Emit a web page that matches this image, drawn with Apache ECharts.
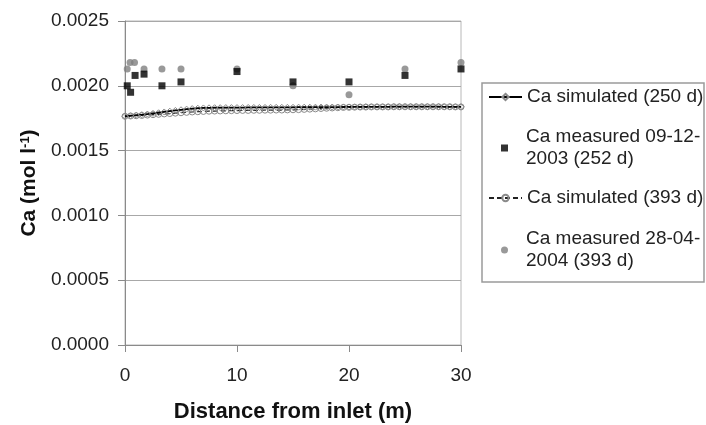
<!DOCTYPE html>
<html>
<head>
<meta charset="utf-8">
<script src="https://cdn.jsdelivr.net/npm/echarts@6/dist/echarts.min.js"></script>
<style>
  html, body { margin: 0; padding: 0; background: #fff; }
  #chart { width: 706px; height: 425px; }
</style>
</head>
<body>
<div id="chart"></div>
<script>
// Distance grid of the simulation (m)
const simDistance = [
  0, 0.5, 1, 1.5, 2, 2.5, 3, 3.5, 4, 4.5, 5, 5.5, 6, 6.5, 7, 7.5, 8, 8.5, 9, 9.5,
  10, 10.5, 11, 11.5, 12, 12.5, 13, 13.5, 14, 14.5, 15, 15.5, 16, 16.5, 17, 17.5,
  18, 18.5, 19, 19.5, 20, 20.5, 21, 21.5, 22, 22.5, 23, 23.5, 24, 24.5, 25, 25.5,
  26, 26.5, 27, 27.5, 28, 28.5, 29, 29.5, 30
];

// Simulated Ca after 250 days (mol/l)
const caSim250 = [
  0.001765, 0.001769, 0.001773, 0.001777, 0.001782, 0.001787, 0.001792, 0.001798,
  0.001804, 0.001810, 0.001815, 0.001820, 0.001824, 0.001827, 0.001829, 0.001830,
  0.001831, 0.001831, 0.001832, 0.001832, 0.001832, 0.001832, 0.001833, 0.001833,
  0.001833, 0.001833, 0.001834, 0.001834, 0.001834, 0.001834, 0.001834, 0.001835,
  0.001835, 0.001835, 0.001835, 0.001836, 0.001836, 0.001836, 0.001836, 0.001837,
  0.001837, 0.001837, 0.001837, 0.001838, 0.001838, 0.001838, 0.001838, 0.001838,
  0.001839, 0.001839, 0.001839, 0.001839, 0.001839, 0.001839, 0.001839, 0.001839,
  0.001839, 0.001838, 0.001838, 0.001838, 0.001838
];

// Simulated Ca after 393 days (mol/l)
const caSim393 = [
  0.001765, 0.001767, 0.001769, 0.001771, 0.001774, 0.001777, 0.001780, 0.001783,
  0.001786, 0.001789, 0.001792, 0.001795, 0.001798, 0.001800, 0.001802, 0.001804,
  0.001805, 0.001806, 0.001807, 0.001808, 0.001809, 0.001810, 0.001810, 0.001811,
  0.001811, 0.001812, 0.001812, 0.001813, 0.001813, 0.001814, 0.001815, 0.001816,
  0.001818, 0.001820, 0.001822, 0.001825, 0.001827, 0.001829, 0.001831, 0.001833,
  0.001834, 0.001835, 0.001836, 0.001836, 0.001837, 0.001837, 0.001837, 0.001837,
  0.001838, 0.001838, 0.001838, 0.001838, 0.001838, 0.001838, 0.001838, 0.001838,
  0.001838, 0.001838, 0.001838, 0.001837, 0.001837
];

// Measured Ca, 09-12-2003 (252 d)
const meas252Distance = [0.2, 0.5, 0.9, 1.7, 3.3, 5, 10, 15, 20, 25, 30];
const meas252Ca = [0.00200, 0.00195, 0.00208, 0.00209, 0.00200, 0.00203, 0.00211, 0.00203, 0.00203, 0.00208, 0.00213];

// Measured Ca, 28-04-2004 (393 d)
const meas393Distance = [0.2, 0.45, 0.85, 1.7, 3.3, 5, 10, 15, 20, 25, 30];
const meas393Ca = [0.00213, 0.00218, 0.00218, 0.00213, 0.00213, 0.00213, 0.00213, 0.00200, 0.00193, 0.00213, 0.00218];

// Axis ticks
const xTicks = { min: 0, max: 30, interval: 10 };
const yTicks = { min: 0, max: 0.0025, interval: 0.0005 };

const names = {
  sim250: 'Ca simulated (250 d)',
  meas252: 'Ca measured 09-12-2003 (252 d)',
  sim393: 'Ca simulated (393 d)',
  meas393: 'Ca measured 28-04-2004 (393 d)'
};

const zip = (xs, ys) => xs.map((x, i) => [x, ys[i]]);

const FONT = '"Liberation Sans", Arial, sans-serif';
const legendText = { fontFamily: FONT, fontSize: 19, color: '#222', lineHeight: 22 };

// One legend block per entry so each sits at its own height.
// Line entries get a long line icon; marker entries a small symbol,
// with the label pushed right so all labels share one left edge.
function lineLegend(name, top) {
  return {
    data: [name],
    left: 488, top: top, padding: 0,
    itemWidth: 33, itemHeight: 8,
    selectedMode: false,
    textStyle: Object.assign({}, legendText)
  };
}
function markerLegend(name, top) {
  return {
    data: [name],
    left: 501, top: top, padding: 0,
    itemWidth: 7, itemHeight: 7,
    selectedMode: false,
    formatter: n => n.replace(/(\d\d-\d\d-)/, '$1\n'),
    textStyle: Object.assign({}, legendText, { padding: [22, 0, 0, 13] })
  };
}

const chart = echarts.init(document.getElementById('chart'), null, { renderer: 'canvas' });

chart.setOption({
  animation: false,
  backgroundColor: '#fff',
  grid: {
    left: 125, right: 245, top: 21, bottom: 80,
    outerBoundsMode: 'none',
    show: true, borderColor: '#b8b8b8', borderWidth: 1
  },
  xAxis: {
    type: 'value',
    min: xTicks.min, max: xTicks.max, interval: xTicks.interval,
    name: 'Distance from inlet (m)',
    nameLocation: 'middle',
    nameGap: 56,
    nameTextStyle: { fontFamily: FONT, fontSize: 22, fontWeight: 'bold', color: '#111' },
    axisLine: { lineStyle: { color: '#8a8a8a', width: 1 } },
    axisTick: { show: true, inside: false, length: 7, lineStyle: { color: '#8a8a8a' } },
    axisLabel: { fontFamily: FONT, fontSize: 19, color: '#222', margin: 21 },
    splitLine: { show: false }
  },
  yAxis: {
    type: 'value',
    min: yTicks.min, max: yTicks.max, interval: yTicks.interval,
    name: 'Ca (mol l{sup|-1})',
    nameLocation: 'middle',
    nameRotate: 90,
    nameGap: 85,
    nameTextStyle: {
      fontFamily: FONT, fontSize: 21, fontWeight: 'bold', color: '#111',
      rich: { sup: { fontFamily: FONT, fontSize: 13, fontWeight: 'bold', color: '#111', verticalAlign: 'top', padding: [0, 0, 8, 0] } }
    },
    axisLine: { show: true, lineStyle: { color: '#8a8a8a', width: 1 } },
    axisTick: { show: true, inside: false, length: 7, lineStyle: { color: '#8a8a8a' } },
    axisLabel: { fontFamily: FONT, fontSize: 19, color: '#222', margin: 16, formatter: v => v.toFixed(4) },
    splitLine: { show: true, lineStyle: { color: '#a8a8a8', width: 1 } }
  },
  legend: [
    lineLegend(names.sim250, 86),
    markerLegend(names.meas252, 115),
    lineLegend(names.sim393, 187),
    markerLegend(names.meas393, 217)
  ],
  graphic: [{
    type: 'rect',
    z: 1,
    silent: true,
    shape: { x: 482, y: 83, width: 222, height: 199 },
    style: { fill: '#fff', stroke: '#9a9a9a', lineWidth: 1.5 }
  }],
  series: [
    {
      name: names.sim250,
      type: 'line',
      data: zip(simDistance, caSim250),
      symbol: 'diamond',
      symbolSize: 6,
      showAllSymbol: true,
      lineStyle: { color: '#000', width: 1.8 },
      itemStyle: { color: 'rgba(255,255,255,0)', borderColor: '#8a8a8a', borderWidth: 1 },
      z: 3
    },
    {
      name: names.meas252,
      type: 'scatter',
      data: zip(meas252Distance, meas252Ca),
      symbol: 'rect',
      symbolSize: 7,
      itemStyle: { color: '#000' },
      z: 5
    },
    {
      name: names.sim393,
      type: 'line',
      data: zip(simDistance, caSim393),
      symbol: 'circle',
      symbolSize: 6,
      showAllSymbol: true,
      lineStyle: { color: '#222', width: 1.2, type: [5, 3] },
      itemStyle: { color: 'rgba(255,255,255,0)', borderColor: '#8a8a8a', borderWidth: 1 },
      z: 2
    },
    {
      name: names.meas393,
      type: 'scatter',
      data: zip(meas393Distance, meas393Ca),
      symbol: 'circle',
      symbolSize: 7,
      itemStyle: { color: '#808080' },
      z: 4
    }
  ]
});
</script>
</body>
</html>
